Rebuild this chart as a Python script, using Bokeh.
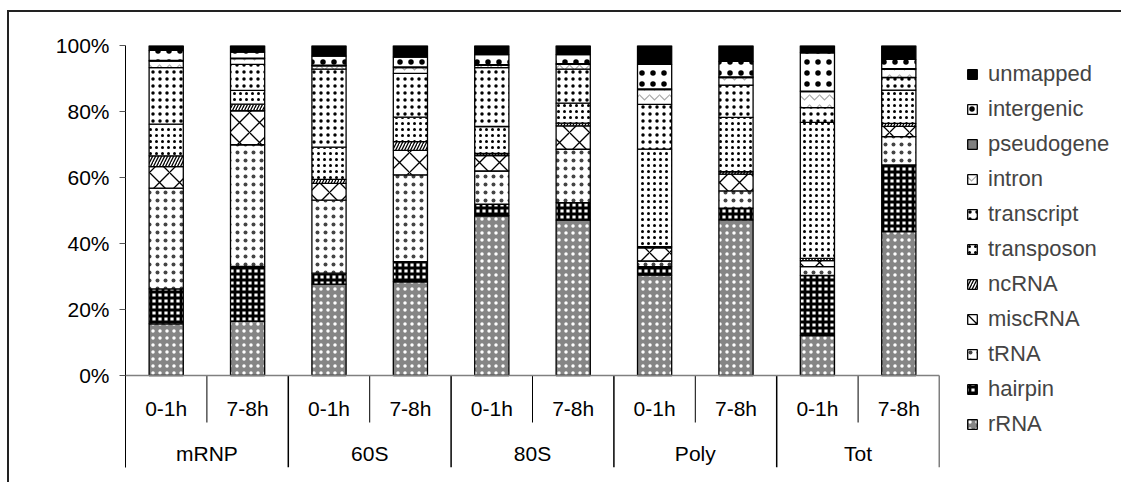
from bokeh.plotting import figure
from bokeh.models import (FactorRange, Range1d, FixedTicker, PrintfTickFormatter, Legend,
                          LegendItem, Span, ColumnDataSource)
from bokeh.core.properties import value
from bokeh.embed import file_html
from bokeh.resources import INLINE

groups = ["mRNP", "60S", "80S", "Poly", "Tot"]
times = ["0-1h", "7-8h"]

# percentages, bottom to top of each stack
rRNA       = [15.7, 16.4, 27.8, 28.5, 48.5, 47.2, 30.5, 47.2, 12.1, 43.6]
hairpin    = [10.6, 16.7,  3.3,  6.1,  3.5,  5.3,  2.6,  3.6, 18.2, 20.2]
tRNA       = [30.6, 36.9, 22.2, 26.4, 10.1, 16.2,  1.7,  5.2,  2.7,  8.6]
miscRNA    = [ 6.5, 10.3,  5.1,  7.4,  4.7,  7.1,  4.0,  5.1,  1.8,  3.1]
ncRNA      = [ 3.3,  2.0,  1.2,  2.7,  0.6,  0.8,  0.4,  0.7,  0.7,  0.9]
transposon = [ 9.6,  4.2,  9.8,  7.4,  8.2,  6.1, 29.6, 16.5, 41.2, 10.1]
transcript = [17.2,  7.9, 23.7, 13.3, 17.9, 10.3, 13.6,  9.8,  4.5,  3.8]
intron     = [ 2.0,  1.7,  1.0,  1.8,  0.7,  1.5,  4.5,  2.3,  4.8,  2.5]
pseudogene = [ 0.2,  0.2,  0.2,  0.2,  0.2,  0.2,  0.2,  0.2,  0.2,  0.2]
intergenic = [ 3.0,  1.8,  2.8,  3.0,  3.0,  2.7,  7.5,  4.7, 11.6,  2.8]
unmapped   = [ 1.5,  2.0,  3.2,  3.5,  2.8,  2.8,  5.7,  4.8,  2.2,  4.2]

names = ["rRNA", "hairpin", "tRNA", "miscRNA", "ncRNA", "transposon", "transcript",
         "intron", "pseudogene", "intergenic", "unmapped"]
raw = [rRNA, hairpin, tRNA, miscRNA, ncRNA, transposon, transcript, intron,
       pseudogene, intergenic, unmapped]

factors = [(g, t) for g in groups for t in times]
totals = [sum(col[i] for col in raw) for i in range(len(factors))]
data = {n: [v / tot * 100 for v, tot in zip(col, totals)] for n, col in zip(names, raw)}

styles = {
    "rRNA":       dict(fill_color="#858585", hatch_pattern="dot", hatch_color="white", hatch_scale=7, hatch_weight=1),
    "hairpin":    dict(fill_color="white", hatch_pattern="+", hatch_color="black", hatch_scale=6, hatch_weight=2.8),
    "tRNA":       dict(fill_color="white", hatch_pattern="dot", hatch_color="#444444", hatch_scale=8, hatch_weight=1),
    "miscRNA":    dict(fill_color="white", hatch_pattern="x", hatch_color="black", hatch_scale=20, hatch_weight=1.3),
    "ncRNA":      dict(fill_color="white", hatch_pattern="/", hatch_color="black", hatch_scale=6, hatch_weight=1.3),
    "transposon": dict(fill_color="white", hatch_pattern="dot", hatch_color="black", hatch_scale=6, hatch_weight=1),
    "transcript": dict(fill_color="white", hatch_pattern="dot", hatch_color="black", hatch_scale=7, hatch_weight=3.3),
    "intron":     dict(fill_color="white", hatch_pattern="v", hatch_color="#aaaaaa", hatch_scale=10, hatch_weight=1.2),
    "pseudogene": dict(fill_color="#808080"),
    "intergenic": dict(fill_color="white", hatch_pattern="dot", hatch_color="black", hatch_scale=11, hatch_weight=0.8),
    "unmapped":   dict(fill_color="black"),
}

FONT = value("Liberation Sans")
px_per_unit = 3.3
y_bottom = -92 / px_per_unit

p = figure(x_range=FactorRange(*factors, range_padding=0, group_padding=0,
                               subgroup_padding=0, factor_padding=0),
           y_range=Range1d(y_bottom, 100),
           frame_width=814, frame_height=422,
           output_backend="svg", toolbar_location=None,
           x_axis_location=None,
           min_border_left=116, min_border_right=0, min_border_top=33, min_border_bottom=15)
p.margin = (10, 0, 0, 7)
p.styles = {"border-left": "2px solid #222222", "border-top": "2px solid #222222"}
p.outline_line_color = None
p.xgrid.grid_line_color = None
p.ygrid.grid_line_color = None
p.background_fill_color = "white"
p.border_fill_color = "white"

ax = p.yaxis[0]
ax.ticker = FixedTicker(ticks=[0, 20, 40, 60, 80, 100])
ax.formatter = PrintfTickFormatter(format="%d%%")
ax.major_label_text_font = "Liberation Sans"
ax.major_label_text_font_size = "21px"
ax.major_label_text_color = "black"
ax.axis_line_color = "black"
ax.axis_line_width = 1
ax.major_tick_line_color = "#555555"
ax.major_tick_out = 6
ax.major_tick_in = 0
ax.minor_tick_line_color = None
ax.major_label_standoff = 10

renderers = {}
for i, n in enumerate(names):
    bottoms = [sum(data[m][k] for m in names[:i]) for k in range(len(factors))]
    tops = [b + data[n][k] for k, b in enumerate(bottoms)]
    src = ColumnDataSource(dict(x=factors, bottom=bottoms, top=tops))
    r = p.vbar(x="x", bottom="bottom", top="top", width=0.42, source=src,
               line_color="black", line_width=1.3, **styles[n])
    renderers[n] = r

# category axis: baseline, separators and labels
p.add_layout(Span(location=0, dimension="width", line_color="#808080", line_width=1.5))
sub_sep = [(g, "0-1h", 0.5) for g in groups]
grp_sep = [(g, "7-8h", 0.5) for g in groups]
p.segment(x0=sub_sep, x1=sub_sep, y0=[0] * len(sub_sep), y1=[-47 / px_per_unit] * len(sub_sep),
          line_color="black", line_width=1)
p.segment(x0=grp_sep, x1=grp_sep, y0=[0] * len(grp_sep), y1=[y_bottom] * len(grp_sep),
          line_color="black", line_width=1.5)
p.text(x=factors, y=[-33 / px_per_unit] * len(factors), text=[t for g, t in factors],
       text_font=FONT, text_font_size="21px", text_align="center", text_baseline="middle",
       text_color="black")
p.text(x=groups, y=[-78 / px_per_unit] * len(groups), text=groups,
       text_font=FONT, text_font_size="21px", text_align="center", text_baseline="middle",
       text_color="black")

legend = Legend(items=[LegendItem(label=n, renderers=[renderers[n]]) for n in reversed(names)],
                location=(7, 10), glyph_width=12, glyph_height=12, label_standoff=10,
                label_height=26, spacing=9, padding=19, margin=0,
                label_text_font="Liberation Sans", label_text_font_size="22px",
                border_line_color="white", border_line_width=1,
                background_fill_color="white", background_fill_alpha=0)
p.add_layout(legend, "right")

open("out.html", "w").write(file_html(p, INLINE))
